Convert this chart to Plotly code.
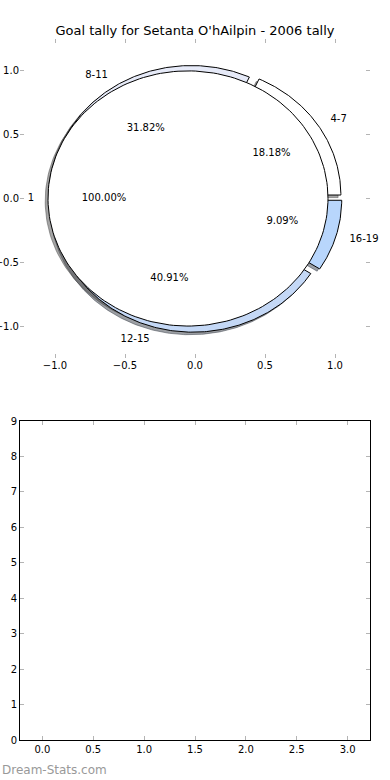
import numpy as np
import plotly.graph_objects as go

# ---- data ----
outer_labels = ["4-7", "8-11", "12-15", "16-19"]
outer_goals = [4, 7, 9, 2]
inner_labels = ["1"]
inner_goals = [1]
title_text = "Goal tally for Setanta O'hAilpin - 2006 tally"
pie_ticks = [-1.0, -0.5, 0.0, 0.5, 1.0]
bar_xticks = [0.0, 0.5, 1.0, 1.5, 2.0, 2.5, 3.0]
bar_yticks = [0, 1, 2, 3, 4, 5, 6, 7, 8, 9]

# ---- style ----
outer_colors = ["#ffffff", "#e6eaf8", "#c4d8f6", "#b8d6fc"]
inner_colors = ["#ffffff"]
EXPLODE = 0.05
RADIUS = 1.0
SHADOW = (-0.02, -0.02)
FONT = "DejaVu Sans"

def hex_rgb(h):
    h = h.lstrip("#")
    return tuple(int(h[i:i + 2], 16) for i in (0, 2, 4))

def wedge_pts(cx, cy, r, t1, t2, full):
    th = np.linspace(np.radians(t1), np.radians(t2), 200)
    xs = cx + r * np.cos(th)
    ys = cy + r * np.sin(th)
    if full:
        return list(xs), list(ys)
    return [cx] + list(xs) + [cx], [cy] + list(ys) + [cy]

def pie_geometry(values, labels, colors):
    total = float(sum(values))
    out = []
    start = 0.0
    for v, lab, col in zip(values, labels, colors):
        frac = v / total
        t1 = start * 360.0
        t2 = (start + frac) * 360.0
        tm = np.radians((t1 + t2) / 2.0)
        cx = EXPLODE * np.cos(tm)
        cy = EXPLODE * np.sin(tm)
        out.append(dict(t1=t1, t2=t2, tm=tm, cx=cx, cy=cy, frac=frac,
                        label=lab, color=col, full=(frac >= 0.9999)))
        start += frac
    return out

outer = pie_geometry(outer_goals, outer_labels, outer_colors)
inner = pie_geometry(inner_goals, inner_labels, inner_colors)

fig = go.Figure()

# shadows first (lower zorder in the original)
for w in outer + inner:
    r, g, b = hex_rgb(w["color"])
    sc = "rgba(%d,%d,%d,0.5)" % (0.3 * r, 0.3 * g, 0.3 * b)
    xs, ys = wedge_pts(w["cx"] + SHADOW[0], w["cy"] + SHADOW[1], RADIUS, w["t1"], w["t2"], w["full"])
    fig.add_trace(go.Scatter(x=xs, y=ys, mode="lines", fill="toself", fillcolor=sc,
                             line=dict(color=sc, width=1), hoverinfo="skip",
                             showlegend=False, xaxis="x", yaxis="y"))

# wedges
for w in outer + inner:
    xs, ys = wedge_pts(w["cx"], w["cy"], RADIUS, w["t1"], w["t2"], w["full"])
    fig.add_trace(go.Scatter(x=xs, y=ys, mode="lines", fill="toself", fillcolor=w["color"],
                             line=dict(color="black", width=1), hoverinfo="skip",
                             showlegend=False, xaxis="x", yaxis="y"))

# labels and percentages
for w in outer + inner:
    lx = w["cx"] + 1.1 * RADIUS * np.cos(w["tm"])
    ly = w["cy"] + 1.1 * RADIUS * np.sin(w["tm"])
    pos = "middle right" if lx > 0 else "middle left"
    fig.add_trace(go.Scatter(x=[lx], y=[ly], mode="text", text=[w["label"]],
                             textposition=pos, cliponaxis=False,
                             textfont=dict(family=FONT, size=10, color="black"),
                             hoverinfo="skip", showlegend=False, xaxis="x", yaxis="y"))
    px = w["cx"] + 0.6 * RADIUS * np.cos(w["tm"])
    py = w["cy"] + 0.6 * RADIUS * np.sin(w["tm"])
    fig.add_trace(go.Scatter(x=[px], y=[py], mode="text", text=["%.2f%%" % (100 * w["frac"])],
                             textposition="middle center", cliponaxis=False,
                             textfont=dict(family=FONT, size=10, color="black"),
                             hoverinfo="skip", showlegend=False, xaxis="x", yaxis="y"))

tick_common = dict(ticks="inside", ticklen=4, tickwidth=1, tickcolor="#b4b4b4",
                   showgrid=False, zeroline=False, automargin=False,
                   tickfont=dict(family=FONT, size=10, color="black"))

fig.update_layout(
    width=390, height=780,
    margin=dict(l=20, r=20, t=39, b=40),
    paper_bgcolor="white", plot_bgcolor="white",
    font=dict(family=FONT, size=10, color="black"),
    title=dict(text=title_text, x=0.5, xref="paper", y=1 - 30 / 780, yanchor="middle",
               font=dict(family=FONT, size=13, color="black"), automargin=False),
    xaxis=dict(domain=[0, 1], range=[-1.25, 1.25], anchor="y", tickvals=pie_ticks,
               tickformat=".1f", showline=False, mirror="ticks", **tick_common),
    yaxis=dict(domain=[0.545, 1.0], range=[-1.25, 1.25], anchor="x", tickvals=pie_ticks,
               tickformat=".1f", showline=False, mirror="ticks", **tick_common),
    xaxis2=dict(domain=[0, 1], range=[-0.22, 3.22], anchor="y2", tickvals=bar_xticks,
                tickformat=".1f", showline=True, linecolor="black", linewidth=1,
                mirror="ticks", **tick_common),
    yaxis2=dict(domain=[0, 0.455], range=[0, 9], anchor="x2", tickvals=bar_yticks,
                showline=True, linecolor="black", linewidth=1, mirror="ticks", **tick_common),
    annotations=[dict(text="Dream-Stats.com", xref="paper", yref="paper",
                      x=-20 / 350, y=-30 / 701, xanchor="left", yanchor="middle",
                      showarrow=False, font=dict(family=FONT, size=12, color="#999999"))],
)
# empty second axes (bar axes with no bars)
fig.add_trace(go.Scatter(x=[], y=[], xaxis="x2", yaxis="y2", showlegend=False))

fig.write_html("out.html")
